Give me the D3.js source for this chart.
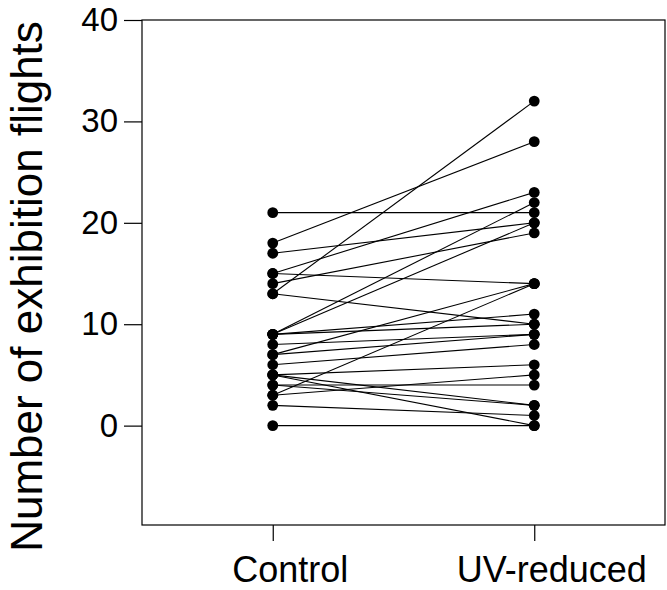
<!DOCTYPE html>
<html>
<head>
<meta charset="utf-8">
<script src="https://cdn.jsdelivr.net/npm/d3@7"></script>
<style>
  html, body { margin: 0; padding: 0; background: #fff; }
  svg { display: block; }
</style>
</head>
<body>
<svg id="chart" width="667" height="590"></svg>
<script>
// ---- data ----
const categories = ["Control", "UV-reduced"];
const controlValues = [21, 18, 17, 15, 15, 14, 13, 13, 9, 9, 9, 9, 8, 7, 7, 6, 5, 5, 5, 4, 4, 3, 3, 2, 0];
const uvValues      = [21, 28, 20, 23, 14, 19, 32, 10, 22, 20, 11, 10, 9, 14, 9, 8, 6, 2, 0, 4, 2, 14, 5, 1, 0];
const yTicks = [0, 10, 20, 30, 40];
const yLabel = "Number of exhibition flights";

(function () {
  // ---- layout ----
  const mLeft = 142, mRight = 665, mTop = 20, mBottom = 525;
  const font = "'Liberation Sans', Arial, Helvetica, sans-serif";

  const svg = d3.select("#chart");

  const x = d3.scalePoint().domain(categories).range([mLeft, mRight]).padding(0.5);
  const y = d3.scaleLinear().domain([-9.8, 40]).range([mBottom, mTop]);

  const pairs = controlValues.map((c, i) => ({ c, u: uvValues[i] }));

  // lines
  svg.append("g").selectAll("line").data(pairs).join("line")
    .attr("x1", x(categories[0])).attr("y1", d => y(d.c))
    .attr("x2", x(categories[1])).attr("y2", d => y(d.u))
    .attr("stroke", "#000").attr("stroke-width", 1.1);

  // points
  const pts = [];
  pairs.forEach(d => { pts.push({ k: categories[0], v: d.c }); pts.push({ k: categories[1], v: d.u }); });
  svg.append("g").selectAll("circle").data(pts).join("circle")
    .attr("cx", d => x(d.k)).attr("cy", d => y(d.v)).attr("r", 5.4)
    .attr("fill", "#000");

  // frame
  svg.append("rect")
    .attr("x", mLeft).attr("y", mTop)
    .attr("width", mRight - mLeft).attr("height", mBottom - mTop)
    .attr("fill", "none").attr("stroke", "#000").attr("stroke-width", 1.2);

  // y axis
  const ya = svg.append("g").attr("transform", `translate(${mLeft},0)`)
    .call(d3.axisLeft(y).tickValues(yTicks).tickSize(18).tickSizeOuter(0).tickPadding(6));
  ya.select(".domain").remove();
  ya.selectAll(".tick line").attr("stroke", "#000").attr("stroke-width", 1.2);
  ya.selectAll(".tick text").attr("font-family", font).attr("font-size", 33).attr("fill", "#000");

  // x axis
  const xa = svg.append("g").attr("transform", `translate(0,${mBottom})`)
    .call(d3.axisBottom(x).tickSize(16).tickSizeOuter(0));
  xa.select(".domain").remove();
  xa.selectAll(".tick line").attr("stroke", "#000").attr("stroke-width", 1.2);
  xa.selectAll(".tick text").attr("font-family", font).attr("font-size", 36).attr("fill", "#000")
    .attr("y", 57).attr("dy", 0).attr("dx", 17);

  // y label
  svg.append("text")
    .attr("transform", `translate(42,${(18 + 555) / 2}) rotate(-90)`)
    .attr("text-anchor", "middle")
    .attr("font-family", font).attr("font-size", 44)
    .attr("fill", "#000")
    .text(yLabel);
})();
</script>
</body>
</html>
